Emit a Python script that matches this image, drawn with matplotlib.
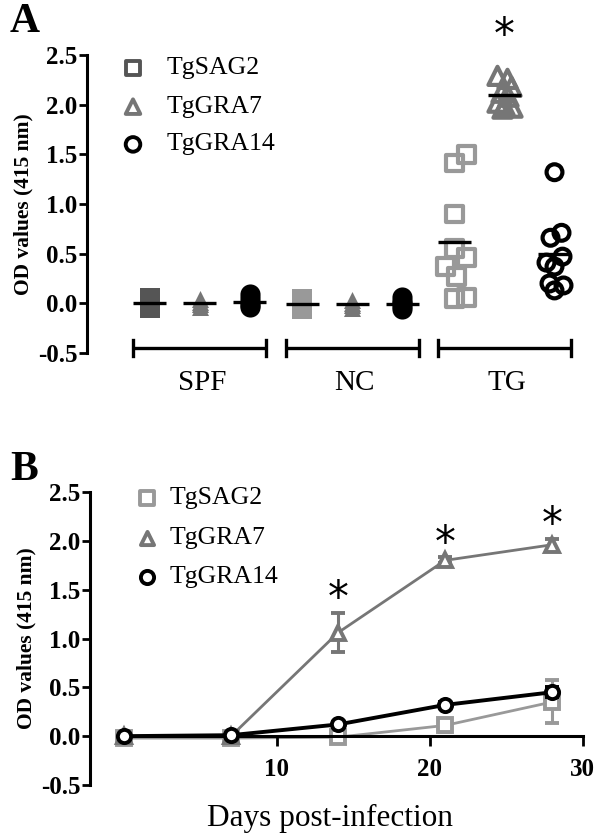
import matplotlib
matplotlib.use('Agg')
import matplotlib.pyplot as plt
import numpy as np

plt.rcParams['font.family'] = ['Liberation Serif', 'DejaVu Serif']

# ---------------- data ----------------
antigens = ['TgSAG2', 'TgGRA7', 'TgGRA14']
groups = ['SPF', 'NC', 'TG']

# Panel A: OD values per group / antigen
spf_sag2 = [0.05, 0.02, 0.0, -0.02, -0.05]
spf_gra7 = [0.04, 0.01, -0.01, -0.04]
spf_gra14 = [0.09, 0.05, 0.01, -0.02, -0.04]
nc_sag2 = [0.04, 0.02, 0.0, -0.03, -0.06]
nc_gra7 = [0.03, 0.0, -0.02, -0.05]
nc_gra14 = [0.06, 0.02, 0.0, -0.03, -0.06]
tg_sag2 = [1.41, 1.50, 0.90, 0.55, 0.46, 0.37, 0.27, 0.05, 0.06]
tg_gra7 = [2.29, 2.26, 2.18, 2.12, 2.08, 2.02, 1.99, 1.97, 1.96]
tg_gra14 = [1.32, 0.71, 0.66, 0.47, 0.41, 0.37, 0.20, 0.18, 0.13]

# Panel B: kinetics
days = [0, 7, 14, 21, 28]
sag2_mean = [-0.02, -0.02, -0.01, 0.11, 0.35]
sag2_err = [0.01, 0.01, 0.03, 0.07, 0.22]
gra7_mean = [0.0, 0.0, 1.06, 1.80, 1.96]
gra7_err = [0.01, 0.01, 0.20, 0.03, 0.06]
gra14_mean = [0.0, 0.01, 0.12, 0.32, 0.45]
gra14_err = [0.01, 0.01, 0.02, 0.03, 0.05]
star_days = [14, 21, 28]

yticks = [-0.5, 0.0, 0.5, 1.0, 1.5, 2.0, 2.5]
xticks_b = [10, 20, 30]

# ---------------- layout / style ----------------
W, H = 600, 838
fig = plt.figure(figsize=(W / 100, H / 100), dpi=100)

def px_axes(left, top, right, bottom):
    return fig.add_axes([left / W, 1 - bottom / H, (right - left) / W, (bottom - top) / H])

tick_fs = 18
c_dark = '#555555'
c_mid = '#767676'
c_light = '#999999'
c_black = '#000000'

# ================= Panel A =================
axA = px_axes(87, 55, 592, 353)
axA.set_xlim(-1.2, 8.9)
axA.set_ylim(-0.5, 2.5)

centers = [1.05, 4.1, 7.15]
col_off = [-1.0, 0.0, 1.0]

# jitter offsets for TG (x, in column units)
jit_sag2 = [0.0, 0.24, 0.0, 0.0, 0.24, -0.18, 0.04, 0.0, 0.24]
jit_gra7 = [-0.14, 0.06, 0.14, -0.06, 0.08, -0.14, 0.0, 0.16, -0.04]
jit_gra14 = [0.0, 0.14, -0.08, 0.16, -0.16, 0.0, -0.1, 0.18, 0.0]

filled_sets = [
    (0, [spf_sag2, spf_gra7, spf_gra14], [c_dark, c_mid, c_black]),
    (1, [nc_sag2, nc_gra7, nc_gra14], [c_light, c_mid, c_black]),
]
markers = ['s', '^', 'o']
sizes_f = {'s': 210, '^': 150, 'o': 210}
for gi, vals_list, cols in filled_sets:
    for j, (vals, col, mk) in enumerate(zip(vals_list, cols, markers)):
        x = centers[gi] + col_off[j]
        axA.scatter([x] * len(vals), vals, marker=mk, s=sizes_f[mk],
                    color=col, edgecolors=col, linewidths=0, zorder=3, clip_on=False)
        m = np.mean(vals)
        axA.plot([x - 0.33, x + 0.33], [m, m], color='black', lw=2.4, zorder=4,
                 solid_capstyle='butt')

tg_sets = [(tg_sag2, jit_sag2, c_light, 's', 140),
           (tg_gra7, jit_gra7, c_mid, '^', 170),
           (tg_gra14, jit_gra14, c_black, 'o', 130)]
for j, (vals, jit, col, mk, sz) in enumerate(tg_sets):
    x0 = centers[2] + col_off[j]
    xs = [x0 + d for d in jit]
    axA.scatter(xs, vals, marker=mk, s=sz, facecolors='none', edgecolors=col,
                linewidths=3.0, zorder=3, clip_on=False)
    m = np.mean(vals)
    axA.plot([x0 - 0.33, x0 + 0.33], [m, m], color='black', lw=2.4, zorder=4,
             solid_capstyle='butt')

# significance star
axA.text(centers[2], 2.69, '*', ha='center', va='center', fontsize=30,
         family='DejaVu Sans', clip_on=False)

# group brackets
for g, c in zip(groups, centers):
    axA.plot([c - 1.33, c + 1.33], [-0.45, -0.45], color='black', lw=2.4,
             clip_on=False, solid_capstyle='butt')
    for e in (c - 1.33, c + 1.33):
        axA.plot([e, e], [-0.53, -0.37], color='black', lw=2.4, clip_on=False)
    axA.text(c + 0.05, -0.80, g, ha='center', va='center', fontsize=21, clip_on=False)

# legend A
leg_y = [2.37, 1.98, 1.60]
leg_cols_A = [c_dark, c_mid, c_black]
for lab, y, col, mk in zip(antigens, leg_y, leg_cols_A, markers):
    axA.scatter([-0.28], [y], marker=mk, s=110, facecolors='none', edgecolors=col,
                linewidths=2.8, clip_on=False)
    axA.text(0.4, y, lab, ha='left', va='center', fontsize=18.5)

for sp in ['top', 'right', 'bottom']:
    axA.spines[sp].set_visible(False)
axA.spines['left'].set_linewidth(2.2)
axA.set_xticks([])
axA.set_yticks(yticks)
axA.set_yticklabels([f'{v:.1f}' for v in yticks], fontsize=tick_fs, fontweight='bold')
axA.tick_params(axis='y', direction='out', length=6, width=2, pad=1)
axA.set_ylabel('OD values (415 nm)', fontsize=15.5, fontweight='bold', labelpad=3)

fig.text(10 / W, 1 - 22 / H, 'A', fontsize=30, fontweight='bold', va='center', ha='left')

# ================= Panel B =================
axB = px_axes(90, 492, 592, 785)
axB.set_ylim(-0.5, 2.5)
axB.set_xlim(-2.22, 30.6)

series_B = [
    (sag2_mean, sag2_err, c_light, 's', 2.0, 1),
    (gra7_mean, gra7_err, c_mid, '^', 2.0, 2),
    (gra14_mean, gra14_err, c_black, 'o', 2.8, 3),
]
for mean, err, col, mk, lw, z in series_B:
    axB.errorbar(days, mean, yerr=err, color=col, lw=lw, marker=mk, markersize=9.5,
                 markerfacecolor='white', markeredgecolor=col, markeredgewidth=2.8,
                 ecolor=col, elinewidth=2.2, capsize=5, capthick=2.4, zorder=z,
                 clip_on=False)

for d in star_days:
    i = days.index(d)
    v = gra7_mean[i] + gra7_err[i]
    axB.text(d, v + 0.14, '*', ha='center', va='center', fontsize=30,
             family='DejaVu Sans')

leg_yB = [2.44, 2.03, 1.63]
leg_cols_B = [c_light, c_mid, c_black]
for lab, y, col, mk in zip(antigens, leg_yB, leg_cols_B, markers):
    axB.scatter([1.5], [y], marker=mk, s=90, facecolors='white', edgecolors=col,
                linewidths=2.8, clip_on=False, zorder=5)
    axB.text(3.0, y, lab, ha='left', va='center', fontsize=18.5)

for sp in ['top', 'right']:
    axB.spines[sp].set_visible(False)
axB.spines['left'].set_linewidth(2.2)
axB.spines['bottom'].set_position(('data', 0))
axB.spines['bottom'].set_bounds(0, 30)
axB.spines['bottom'].set_linewidth(2.2)
axB.set_yticks(yticks)
axB.set_yticklabels([f'{v:.1f}' for v in yticks], fontsize=tick_fs, fontweight='bold')
axB.set_xticks(xticks_b)
axB.set_xticklabels([str(t) for t in xticks_b], fontsize=tick_fs, fontweight='bold')
axB.tick_params(axis='y', direction='out', length=6, width=2, pad=1)
axB.tick_params(axis='x', direction='out', length=7, width=2, pad=9)
axB.set_ylabel('OD values (415 nm)', fontsize=15.5, fontweight='bold', labelpad=3)

fig.text(330 / W, 1 - 818 / H, 'Days post-infection', fontsize=22.5, ha='center', va='center')
fig.text(10 / W, 1 - 470 / H, 'B', fontsize=30, fontweight='bold', va='center', ha='left')

fig.savefig('out.png', dpi=100)
